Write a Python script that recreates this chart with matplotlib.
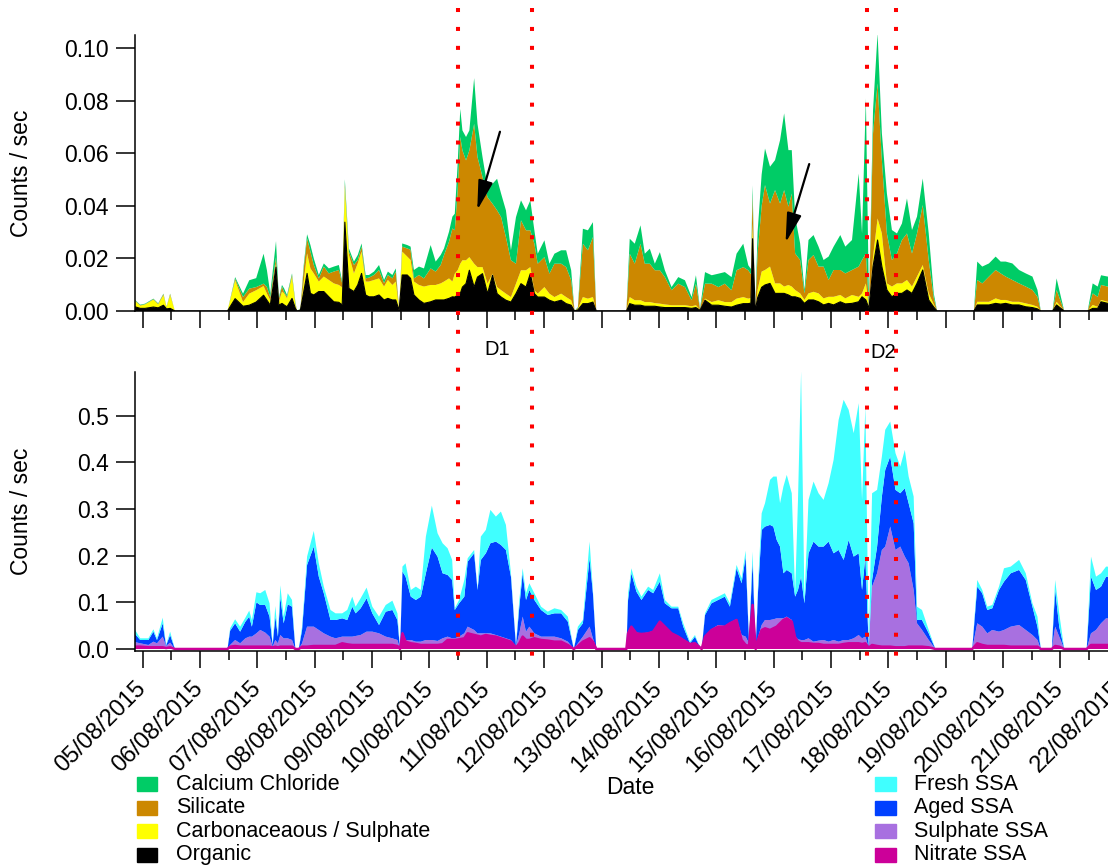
import matplotlib
matplotlib.use("Agg")
import matplotlib.pyplot as plt
import matplotlib.dates as mdates
from matplotlib.lines import Line2D
from matplotlib.patches import Rectangle
from matplotlib.ticker import FormatStrFormatter
from matplotlib.transforms import blended_transform_factory
import numpy as np
import pandas as pd

plt.rcParams["font.family"] = ["Liberation Sans", "DejaVu Sans"]

START = pd.Timestamp("2015-08-05 00:00")

# ---- dust / non-sea-salt classes (hours after 05/08/2015 00:00, values in 1e-3 counts/sec)
top_hours = [
    -4, -1, 1, 4.5, 6.5, 8.7, 10, 11.5, 13.5, 35.5,
    38.7, 42, 44.6, 47.5, 50.6, 52, 53.4, 55.8, 57, 58.3,
    59.2, 60.4, 62.5, 63.9, 64.6, 66, 67.4, 68.8, 70.2, 71.6,
    73.7, 75.8, 77.9, 80, 82.1, 83.5, 84.6, 86.3, 88.4, 90,
    91.6, 93.3, 94.7, 96.8, 98.9, 101, 102.6, 104.5, 105.9, 107.3,
    108.6, 110.7, 112.1, 113.5, 115.6, 117.7, 120.5, 122.6, 124.7, 126.1,
    128.2, 129.6, 130.6, 131.8, 132.9, 133.8, 135.3, 136.7, 138.7, 140.1,
    142.2, 144.3, 146.4, 148.3, 150, 152, 154.1, 156.2, 158.3, 160.4,
    162.2, 163.9, 165.3, 168.1, 170.2, 172.3, 175.1, 177.2, 179.3, 180.7,
    182.1, 184.2, 186.3, 188.4, 189.8, 202.4, 203.8, 205.9, 208.3, 210.1,
    212.2, 214.3, 216.4, 218.5, 221.3, 224.1, 226.9, 229.7, 231.5, 233.2,
    235.3, 238.1, 240.9, 243.6, 246.4, 248.5, 251.3, 253.4, 254.5, 255.2,
    256.3, 257.3, 259, 260.4, 262.5, 264.6, 266.7, 268.4, 270.2, 271.6,
    273, 275.1, 276.9, 278.6, 280.7, 282.8, 284.9, 287, 289.1, 291.9,
    294, 296.8, 299.6, 301, 302.6, 303.9, 305.6, 307.5, 309.3, 311.4,
    313.5, 315.6, 317.7, 319.8, 321.9, 324, 326.4, 328.9, 331, 332.4,
    347.8, 349.2, 351.3, 354.1, 356.9, 359, 361.1, 363.9, 366.7, 369.5,
    372.3, 374.4, 375.8, 380.7, 382.4, 384.2, 385.6, 395.4, 397.5, 399.6,
    401, 403.8, 410,
]
organic = [
    1.8, 1.0, 1.0, 1.5, 1.2, 2.2, 0.8, 1.0, 0, 0,
    4.7, 1.8, 2.2, 3.4, 6.0, 4.1, 2.2, 16.7, 2.2, 2.9,
    2.3, 1.6, 4.8, 1.0, 0, 0.3, 7.4, 14.3, 6.7, 6.1,
    7.4, 7.4, 5.4, 3.5, 3.3, 2.3, 33.8, 8.6, 7.4, 9.9,
    14.3, 6.1, 5.4, 5.4, 6.1, 4.2, 4.8, 4.2, 4.2, 0.3,
    13.7, 13.7, 12.4, 6.1, 4.2, 2.9, 3.5, 4.2, 4.2, 4.2,
    4.8, 5.4, 5.3, 6.0, 6.6, 9.1, 10.4, 15.5, 9.1, 12.9,
    14.2, 6.6, 13.6, 6.6, 5.3, 4.1, 3.4, 6.6, 10.4, 9.1,
    14.2, 6.6, 5.3, 5.3, 4.1, 3.4, 4.1, 2.8, 2.2, 0,
    0.4, 2.8, 2.8, 3.4, 0, 0, 2.8, 2.2, 2.2, 1.8,
    1.8, 1.8, 1.5, 1.3, 1.3, 1.3, 1.3, 1.0, 1.3, 0.3,
    4.1, 2.2, 2.2, 1.8, 1.5, 2.2, 2.8, 2.8, 3.0, 27.5,
    0, 5.0, 9.0, 9.9, 10.5, 6.7, 6.7, 6.7, 6.1, 5.4,
    5.4, 4.8, 2.9, 4.2, 4.2, 3.5, 2.3, 2.9, 2.3, 3.5,
    2.7, 2.9, 3.5, 5.4, 4.2, 1.0, 16.9, 27.0, 16.9, 8.0,
    5.4, 6.7, 6.7, 8.0, 6.7, 10.5, 15.6, 4.2, 1.5, 0,
    0, 2.3, 2.3, 2.3, 2.9, 2.6, 2.9, 2.3, 2.3, 1.6,
    1.3, 0.8, 0, 0, 2.3, 1.0, 0, 0, 1.0, 1.0,
    3.5, 2.9, 2.8,
]
carb_sulphate = [
    2.7, 1.0, 1.5, 2.8, 1.3, 3.8, 0.7, 5.0, 0, 0,
    7.0, 1.6, 4.4, 4.5, 3.5, 2.5, 1.9, 1.3, 1.2, 4.5,
    4.4, 3.2, 8.3, 1.5, 0, 0.4, 3.8, 7.6, 9.5, 8.2,
    3.8, 5.7, 6.4, 7.0, 6.6, 6.7, 13.3, 12.7, 6.9, 8.2,
    8.3, 5.1, 5.8, 6.4, 6.3, 5.1, 7.0, 5.7, 7.0, 0.4,
    8.9, 7.0, 7.0, 5.1, 5.7, 6.4, 6.4, 5.7, 6.3, 7.0,
    7.6, 5.8, 8.9, 9.5, 11.4, 10.2, 8.9, 5.0, 8.9, 3.8,
    2.5, 3.8, 0.6, 2.5, 2.6, 2.5, 1.9, 3.8, 5.1, 6.4,
    2.5, 1.3, 1.3, 3.8, 2.5, 1.9, 2.5, 2.5, 1.9, 0,
    0.4, 2.5, 1.9, 1.9, 0, 0, 2.5, 1.9, 1.9, 1.6,
    1.6, 1.2, 1.3, 1.2, 0.9, 0.9, 0.9, 0.8, 0.9, 0.2,
    0.6, 1.2, 1.9, 1.6, 1.9, 2.5, 2.5, 1.9, 2.0, 5.7,
    0, 3.0, 6.0, 5.7, 6.4, 3.8, 3.8, 2.6, 3.8, 3.9,
    2.6, 1.9, 1.3, 2.5, 3.1, 3.2, 2.5, 2.5, 3.1, 2.6,
    2.1, 3.2, 1.9, 1.3, 6.3, 0.5, 3.8, 8.2, 12.6, 2.5,
    3.9, 3.8, 3.8, 3.8, 2.6, 2.6, 1.9, 2.5, 1.0, 0,
    0, 1.2, 1.2, 1.2, 1.9, 1.6, 1.3, 1.2, 1.2, 1.3,
    1.0, 0.8, 0, 0, 1.2, 0.6, 0, 0, 1.3, 0.6,
    0.7, 0.6, 0.7,
]
silicate = [
    0.2, 0.2, 0.1, 0.2, 0.2, 0.4, 0.1, 0.4, 0, 0,
    0.6, 1.9, 1.9, 1.2, 0.9, 2.5, 1.2, 2.5, 1.3, 1.9,
    0.5, 0.7, 0.6, 0.5, 0, 0.1, 5.0, 5.7, 6.4, 3.2,
    1.2, 3.8, 2.5, 4.5, 5.7, 1.5, 1.3, 1.3, 3.2, 1.3,
    1.9, 1.2, 1.5, 1.9, 3.2, 1.3, 1.9, 2.5, 3.8, 0.2,
    1.9, 3.1, 3.9, 1.2, 3.8, 3.1, 6.3, 5.1, 7.0, 10.1,
    14.0, 20.2, 16.5, 30.4, 48.2, 41.8, 38.0, 40.6, 53.2, 41.9,
    34.3, 32.9, 26.6, 29.2, 27.8, 21.5, 14.0, 7.6, 19.0, 15.2,
    14.0, 17.7, 11.4, 11.4, 7.6, 12.7, 11.4, 11.4, 7.6, 0,
    0.4, 20.3, 18.4, 22.8, 0, 0, 16.5, 13.9, 21.5, 14.6,
    14.6, 12.5, 12.7, 10.4, 5.7, 8.2, 6.9, 2.3, 8.2, 0.2,
    5.7, 7.0, 5.0, 7.0, 4.5, 10.8, 11.4, 10.8, 9.0, 10.8,
    0, 14.0, 25.0, 32.3, 24.0, 35.5, 30.4, 36.7, 29.8, 35.4,
    13.9, 12.7, 2.5, 12.7, 14.0, 10.2, 12.1, 6.4, 10.2, 9.5,
    9.5, 9.5, 11.5, 12.7, 11.4, 0.5, 46.9, 51.4, 27.9, 19.0,
    10.1, 11.4, 16.5, 17.7, 12.6, 16.4, 22.8, 12.7, 2.5, 0,
    0, 8.3, 7.0, 9.6, 10.8, 10.1, 8.9, 8.3, 7.0, 6.4,
    5.7, 3.8, 0, 0, 4.5, 1.9, 0, 0, 4.4, 3.8,
    5.7, 5.8, 5.5,
]
calcium_chloride = [
    0.2, 0.2, 0.2, 0.2, 0.2, 0.2, 0.1, 0.2, 0, 0,
    0.6, 1.3, 3.2, 3.4, 11.4, 6.4, 1.3, 6.1, 0.6, 0.6,
    1.4, 0.6, 0.6, 0.5, 0, 0.2, 1.3, 1.6, 2.5, 2.5,
    1.3, 1.2, 1.9, 1.9, 1.9, 0.7, 1.7, 1.2, 1.3, 1.9,
    1.2, 1.3, 1.0, 1.3, 1.9, 1.2, 1.3, 1.3, 1.2, 0.1,
    1.2, 1.3, 1.2, 3.2, 3.2, 3.8, 8.9, 3.8, 3.8, 2.5,
    3.8, 4.5, 6.3, 10.1, 10.7, 7.6, 8.9, 7.6, 17.4, 12.6,
    7.6, 3.8, 7.6, 12.0, 8.9, 10.2, 3.8, 17.7, 7.6, 7.6,
    11.4, 5.1, 3.8, 6.4, 3.8, 3.8, 5.1, 6.4, 3.8, 0,
    0.3, 5.7, 7.6, 5.7, 0, 0, 5.7, 7.6, 7.0, 3.8,
    5.7, 2.5, 6.9, 2.6, 1.2, 2.5, 2.6, 1.2, 3.2, 0.2,
    4.4, 3.2, 5.1, 4.4, 5.0, 6.3, 8.9, 1.9, 2.0, 3.8,
    0, 8.0, 12.0, 13.9, 14.0, 11.4, 24.1, 29.2, 21.5, 16.5,
    14.0, 6.3, 1.3, 7.6, 7.6, 7.6, 2.5, 8.9, 8.9, 13.3,
    10.2, 11.4, 35.4, 10.1, 59.0, 0.5, 8.8, 19.0, 10.2, 15.2,
    11.4, 7.6, 6.3, 13.3, 8.9, 6.4, 10.1, 10.1, 1.7, 0,
    0, 7.0, 6.4, 5.0, 5.1, 4.5, 5.7, 6.3, 5.1, 5.0,
    5.1, 2.6, 0, 0, 4.4, 1.9, 0, 0, 3.8, 3.9,
    3.7, 3.8, 4.0,
]

# ---- sea-salt classes (hours after 05/08/2015 00:00, values in 1e-3 counts/sec)
ssa_hours = [
    -4, -1, 2.4, 4.5, 6, 8.4, 9.8, 11.5, 13.5, 35.5,
    36.6, 38.7, 40.8, 43, 44.6, 45.7, 47.6, 49.2, 51.3, 53.1,
    54.4, 55.5, 56.6, 57.6, 59, 60.7, 62.5, 63.9, 65.3, 66.7,
    68.8, 71.6, 73.7, 75.8, 78.6, 80.7, 83.5, 85.6, 87.7, 89.1,
    91.2, 93.7, 96.1, 98.9, 101.7, 104.5, 106.6, 107.7, 108.7, 110,
    112.2, 114.3, 116.4, 118.5, 121, 123.4, 125.5, 127.6, 129.5, 130.6,
    132.4, 134.6, 136, 138.7, 140.1, 141.5, 143.6, 145.5, 147.8, 149.9,
    152, 154.1, 156.2, 157.6, 159, 160.4, 161.8, 163.9, 166.7, 169.5,
    172.3, 175.1, 177.9, 180.4, 182.1, 184.2, 187, 188.4, 189.8, 202.4,
    203.1, 204.5, 206.6, 208.7, 211.5, 213.6, 216.4, 218.5, 221.3, 224.1,
    226.2, 229, 231.1, 232.5, 233.9, 235.3, 238, 240.8, 243.6, 245.7,
    248.5, 250.6, 252.3, 253.7, 255.2, 256.5, 257.5, 259, 260.4, 262.5,
    263.9, 265.3, 266.7, 268.1, 269.5, 271.6, 273, 274.2, 275.5, 276.9,
    278.6, 280.7, 282.8, 284.9, 287, 289.1, 291.2, 293.3, 295.4, 297.5,
    299.6, 301, 302.4, 303.8, 305.2, 307.3, 309.3, 310.7, 312.8, 315,
    317, 318.9, 320.5, 322.6, 324, 326.1, 328.9, 331.7, 347.1, 349.2,
    351.3, 353.4, 355.5, 358.3, 360.4, 363.2, 366.7, 369.5, 372.3, 374.4,
    375.8, 380.4, 381.8, 383.5, 385.6, 395, 396.8, 398.9, 401, 403.1,
    410,
]
nitrate_ssa = [
    5.0, 5.0, 3.6, 3.6, 3.6, 3.6, 2.0, 3.6, 0, 0,
    5.0, 6.4, 5.0, 5.0, 5.0, 5.0, 5.0, 5.0, 5.0, 5.0,
    3.6, 5.0, 3.6, 5.0, 5.0, 5.0, 5.0, 0, 0, 5.0,
    5.0, 6.4, 6.4, 6.4, 6.4, 6.4, 12.2, 10.0, 8.6, 8.6,
    8.6, 8.6, 8.6, 8.6, 8.6, 8.6, 6.4, 0, 33.6, 15.7,
    12.2, 10.7, 8.6, 8.6, 8.6, 8.6, 10.0, 19.3, 19.3, 19.3,
    20.7, 22.9, 33.6, 30.0, 27.9, 26.5, 30.0, 27.9, 26.5, 22.9,
    19.3, 15.7, 3.6, 12.2, 26.5, 19.3, 19.3, 22.9, 19.3, 17.9,
    15.7, 15.7, 8.6, 0, 6.4, 15.7, 22.9, 15.7, 0, 0,
    33.6, 47.9, 33.6, 32.2, 33.6, 37.2, 58.7, 47.9, 33.6, 26.5,
    19.3, 10.8, 12.2, 6.4, 0, 26.5, 40.8, 47.9, 47.9, 55.1,
    62.2, 19.3, 8.6, 6.4, 94.4, 0, 20.0, 40.8, 44.3, 40.8,
    44.3, 47.9, 55.1, 62.2, 65.8, 58.7, 25.0, 15.7, 12.2, 12.2,
    12.2, 10.7, 10.7, 8.6, 8.6, 8.6, 8.6, 10.7, 12.2, 12.2,
    12.2, 10.7, 12.2, 3.0, 8.6, 6.4, 5.0, 5.0, 5.0, 3.6,
    3.6, 3.6, 5.0, 5.0, 5.0, 5.0, 3.6, 0, 0, 12.2,
    8.6, 6.4, 6.4, 6.4, 6.4, 5.0, 5.0, 5.0, 5.0, 5.0,
    0, 0, 6.4, 5.0, 0, 0, 8.6, 8.6, 8.6, 8.6,
    8.6,
]
sulphate_ssa = [
    10.7, 7.2, 5.0, 12.1, 8.6, 22.9, 4.4, 10.0, 0, 0,
    3.6, 12.9, 7.2, 17.9, 21.5, 21.5, 28.6, 35.8, 30.1, 21.5,
    1.4, 14.3, 8.6, 25.0, 17.9, 17.9, 14.3, 0, 0, 7.2,
    42.9, 41.5, 34.4, 27.2, 20.1, 16.5, 14.3, 16.5, 17.9, 19.3,
    21.4, 28.6, 28.6, 25.0, 17.9, 14.3, 12.9, 0, 3.6, 3.6,
    7.1, 5.0, 7.1, 10.7, 10.7, 8.6, 12.9, 7.2, 3.6, 3.6,
    5.8, 10.7, 14.3, 10.8, 5.7, 7.1, 3.6, 5.7, 3.5, 3.6,
    3.6, 3.6, 1.4, 21.4, 42.9, 17.9, 28.6, 10.7, 7.2, 8.6,
    10.8, 7.2, 7.1, 0, 5.8, 10.8, 25.0, 7.2, 0, 0,
    3.6, 1.4, 1.4, 1.4, 1.4, 1.4, 1.4, 1.4, 1.4, 1.4,
    1.4, 1.4, 1.4, 1.0, 0, 1.4, 1.4, 3.6, 1.4, 1.4,
    1.4, 10.7, 17.9, 5.8, 0.0, 0, 5.0, 10.7, 17.9, 21.4,
    19.4, 17.9, 10.7, 3.6, 3.6, 3.5, 1.5, 5.0, 7.1, 7.1,
    10.7, 5.0, 7.2, 10.7, 7.1, 10.7, 7.1, 8.6, 7.1, 10.7,
    17.8, 12.2, 14.3, 0.0, 125.2, 156.0, 207.4, 214.6, 257.5, 208.8,
    216.0, 194.5, 178.8, 121.6, 50.1, 35.8, 15.7, 0, 0, 42.9,
    39.3, 27.2, 34.4, 30.8, 34.4, 42.9, 46.5, 35.8, 25.0, 14.3,
    0, 0, 41.5, 21.5, 0, 0, 25.0, 32.2, 46.5, 57.2,
    55.0,
]
aged_ssa = [
    21.5, 7.1, 10.7, 21.5, 7.1, 28.6, 1.0, 16.4, 0, 0,
    30.7, 35.8, 25.0, 35.8, 42.9, 21.4, 66.5, 53.6, 59.3, 42.9,
    3.6, 50.1, 14.3, 80.9, 32.2, 73.0, 71.5, 0, 0, 28.6,
    132.4, 171.7, 114.4, 85.9, 35.7, 39.3, 39.3, 35.7, 64.3, 48.6,
    57.3, 71.5, 39.3, 17.9, 53.6, 60.8, 42.9, 0, 128.8, 135.9,
    93.0, 89.5, 96.6, 143.1, 198.2, 180.9, 139.5, 132.3, 125.2, 60.8,
    71.5, 78.7, 139.5, 164.5, 93.0, 157.4, 171.7, 193.2, 200.3, 196.7,
    189.5, 135.9, 1.4, 57.2, 93.0, 68.0, 78.7, 71.6, 57.2, 46.5,
    50.0, 53.6, 43.0, 0, 28.6, 28.6, 146.7, 96.6, 0, 0,
    68.0, 113.1, 88.0, 71.6, 91.6, 80.9, 84.4, 48.7, 52.3, 59.4,
    27.2, 0.0, 12.9, 3.3, 0, 45.1, 55.8, 53.7, 63.0, 34.3,
    109.5, 110.9, 171.6, 3.5, 93.0, 0, 100.0, 203.9, 200.3, 203.9,
    198.8, 168.1, 153.8, 96.6, 100.1, 100.2, 85.8, 105.9, 135.9, 78.7,
    182.4, 214.6, 201.7, 200.3, 214.6, 186.0, 196.7, 171.7, 214.6, 175.2,
    175.3, 103.7, 171.6, 0.0, 14.3, 57.2, 114.5, 164.5, 150.2, 128.8,
    114.4, 146.7, 128.8, 143.1, 7.1, 21.4, 14.3, 0, 0, 78.7,
    71.6, 50.1, 46.5, 89.4, 103.7, 114.5, 118.0, 107.3, 60.8, 28.6,
    0, 0, 78.7, 21.4, 0, 0, 121.6, 85.8, 78.7, 89.4,
    90.0,
]
fresh_ssa = [
    10.7, 3.6, 3.6, 5.0, 3.6, 12.1, 1.2, 7.2, 0, 0,
    5.0, 8.6, 10.7, 8.5, 12.9, 14.3, 21.5, 25.1, 32.2, 28.6,
    0.0, 22.9, 3.5, 25.7, 14.3, 23.6, 14.4, 0, 0, 7.1,
    17.8, 33.6, 28.6, 14.3, 21.5, 14.3, 10.7, 21.5, 21.5, 14.3,
    21.4, 22.9, 14.3, 17.9, 14.3, 20.0, 14.3, 0, 10.7, 28.6,
    14.3, 28.6, 14.3, 78.7, 90.1, 50.1, 64.4, 57.2, 42.9, 3.6,
    7.2, 35.8, 7.2, 7.1, 1.5, 50.1, 50.1, 71.5, 53.7, 71.5,
    53.7, 7.2, 2.2, 14.4, 10.7, 14.3, 14.3, 14.3, 7.1, 7.1,
    10.8, 7.2, 10.7, 0, 7.1, 7.1, 35.7, 7.1, 0, 0,
    14.3, 10.7, 10.8, 7.1, 7.2, 7.1, 17.9, 7.2, 3.5, 3.5,
    7.2, 3.5, 3.5, 1.5, 0, 3.5, 7.2, 7.1, 7.2, 7.2,
    7.2, 10.7, 12.9, 3.6, 21.5, 0, 15.0, 35.7, 50.1, 96.6,
    107.3, 135.9, 93.0, 186.0, 203.9, 171.6, 7.2, 193.1, 439.9, 7.2,
    114.4, 128.8, 114.4, 100.1, 125.2, 200.3, 279.0, 343.4, 279.0, 264.7,
    321.9, 193.1, 321.9, 0.0, 185.9, 121.6, 85.8, 85.9, 75.1, 78.7,
    57.3, 82.2, 57.2, 57.2, 28.6, 21.5, 7.2, 0, 0, 14.3,
    7.1, 7.1, 7.1, 7.2, 28.6, 14.3, 21.5, 14.3, 7.2, 21.5,
    0, 0, 21.5, 28.6, 0, 0, 42.9, 28.6, 28.6, 21.5,
    22.0,
]

# D1 and D2 start/end times (hours after 05/08/2015 00:00)
event_hours = [132.0, 163.0, 303.0, 315.3]

GREEN = "#00cc66"
BROWN = "#cc8800"
YELLOW = "#ffff00"
CYAN = "#40ffff"
BLUE = "#0040ff"
LAVENDER = "#a870e0"
MAGENTA = "#cc0099"

W, H = 1108, 865


def fig_xy(x, y):
    return x / W, 1 - y / H


def to_time(hours):
    return START + pd.to_timedelta(np.asarray(hours, dtype=float), unit="h")


def style_axis(ax, yticks, yfmt, ylim):
    for side in ("top", "right"):
        ax.spines[side].set_visible(False)
    for side in ("left", "bottom"):
        ax.spines[side].set_linewidth(1.1)
    ax.set_facecolor("none")
    ax.set_ylim(*ylim)
    ax.set_yticks(yticks)
    ax.yaxis.set_major_formatter(FormatStrFormatter(yfmt))
    ax.set_xlim(to_time([-3.2])[0], to_time([417.3])[0])
    ax.xaxis.set_major_locator(mdates.DayLocator())
    ax.xaxis.set_minor_locator(mdates.HourLocator(byhour=[12]))
    ax.xaxis.set_major_formatter(mdates.DateFormatter("%d/%m/%Y"))
    ax.tick_params(axis="y", length=14, width=1.1, pad=5, labelsize=16.5)
    ax.tick_params(axis="x", which="major", length=12.5, width=1.1, labelsize=17)
    ax.tick_params(axis="x", which="minor", length=6.5, width=1.1)


fig = plt.figure(figsize=(W / 100, H / 100), dpi=100)
left, right = 135, 1140
ax_top = fig.add_axes([left / W, 1 - 311 / H, (right - left) / W, 276 / H])
ax_bot = fig.add_axes([left / W, 1 - 651 / H, (right - left) / W, 279 / H])

# top: stacked non-sea-salt classes
t_top = to_time(top_hours)
top_layers = [np.array(v) * 1e-3 for v in (organic, carb_sulphate, silicate, calcium_chloride)]
ax_top.stackplot(t_top, *top_layers, colors=["black", YELLOW, BROWN, GREEN], linewidth=0)
ax_top.plot(t_top, top_layers[0], color="black", lw=0.8)
style_axis(ax_top, np.arange(0, 0.101, 0.02), "%.2f", (0, 0.105))
ax_top.tick_params(axis="x", which="both", labelbottom=False)

# arrows marking the silicate-rich periods
for tail, tip in [((149.5, 0.0682), (140.0, 0.0384)), ((278.9, 0.0559), (269.0, 0.0260))]:
    ax_top.annotate(
        "",
        xy=(to_time([tip[0]])[0], tip[1]),
        xytext=(to_time([tail[0]])[0], tail[1]),
        arrowprops=dict(arrowstyle="-|>,head_length=1.2,head_width=0.3",
                        color="black", lw=1.6, mutation_scale=15, shrinkA=0, shrinkB=0),
    )

# bottom: stacked sea-salt classes
t_bot = to_time(ssa_hours)
bot_layers = [np.array(v) * 1e-3 for v in (nitrate_ssa, sulphate_ssa, aged_ssa, fresh_ssa)]
ax_bot.stackplot(t_bot, *bot_layers, colors=[MAGENTA, LAVENDER, BLUE, CYAN], linewidth=0)
ax_bot.plot(t_bot, bot_layers[0], color=MAGENTA, lw=1.8)
style_axis(ax_bot, np.arange(0, 0.51, 0.1), "%.1f", (-0.0043, 0.594))
plt.setp(ax_bot.get_xticklabels(), rotation=45, ha="right", va="center",
         rotation_mode="anchor")
ax_bot.tick_params(axis="x", which="major", pad=12)

# dotted event boundaries spanning both panels
trans = blended_transform_factory(ax_top.transData, fig.transFigure)
for h in event_hours:
    x = mdates.date2num(to_time([h])[0])
    fig.add_artist(Line2D([x, x], [1 - 8 / H, 1 - 657 / H], transform=trans,
                          color="red", lw=2.9, linestyle=(0, (1, 3.7)),
                          dash_capstyle="butt"))

fig.text(*fig_xy(497, 349), "D1", ha="center", va="center", fontsize=14.5)
fig.text(*fig_xy(883, 352), "D2", ha="center", va="center", fontsize=14.5)

fig.text(*fig_xy(22, 173), "Counts / sec", rotation=90, ha="center", va="center", fontsize=16.5)
fig.text(*fig_xy(22, 511), "Counts / sec", rotation=90, ha="center", va="center", fontsize=16.5)
fig.text(*fig_xy(630, 788), "Date", ha="center", va="center", fontsize=16.5)

# legends, one column per panel
rows = [784, 807.5, 831, 854.5]
columns = [
    (137, 20, 176, [("Calcium Chloride", GREEN), ("Silicate", BROWN),
                    ("Carbonaceaous / Sulphate", YELLOW), ("Organic", "black")]),
    (875, 21, 914, [("Fresh SSA", CYAN), ("Aged SSA", BLUE),
                    ("Sulphate SSA", LAVENDER), ("Nitrate SSA", MAGENTA)]),
]
for box_x, box_w, text_x, items in columns:
    for y, (label, color) in zip(rows, items):
        fig.patches.append(Rectangle(fig_xy(box_x, y + 7), box_w / W, 14 / H,
                                     transform=fig.transFigure, color=color))
        fig.text(*fig_xy(text_x, y), label, ha="left", va="center", fontsize=15.5)

fig.savefig("out.png", dpi=100)
